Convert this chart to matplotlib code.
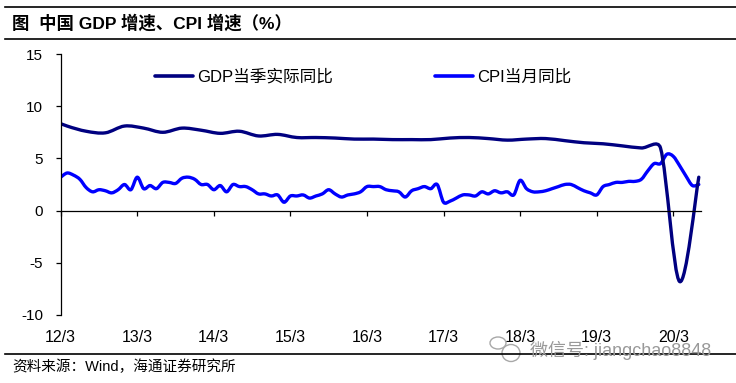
import numpy as np
import matplotlib
matplotlib.use('Agg')
import matplotlib.pyplot as plt
from matplotlib.path import Path
from matplotlib.patches import PathPatch, Ellipse
from matplotlib.lines import Line2D

plt.rcParams['font.family'] = ['Liberation Sans', 'Noto Sans CJK SC', 'DejaVu Sans']
plt.rcParams['axes.unicode_minus'] = False

# ---- data: monthly index, 0 = 2012/2 ----
CPI_YOY = [
    3.2, 3.6, 3.4, 3.0, 2.2, 1.8, 2.0, 1.9, 1.7, 2.0, 2.5,
    2.0, 3.2, 2.1, 2.4, 2.1, 2.7, 2.7, 2.6, 3.1, 3.2, 3.0, 2.5,
    2.5, 2.0, 2.4, 1.8, 2.5, 2.3, 2.3, 2.0, 1.6, 1.6, 1.4, 1.5,
    0.8, 1.4, 1.4, 1.5, 1.2, 1.4, 1.6, 2.0, 1.6, 1.3, 1.5, 1.6,
    1.8, 2.3, 2.3, 2.3, 2.0, 1.9, 1.8, 1.3, 1.9, 2.1, 2.3, 2.1,
    2.5, 0.8, 0.9, 1.2, 1.5, 1.5, 1.4, 1.8, 1.6, 1.9, 1.7, 1.8,
    1.5, 2.9, 2.1, 1.8, 1.8, 1.9, 2.1, 2.3, 2.5, 2.5, 2.2, 1.9,
    1.7, 1.5, 2.3, 2.5, 2.7, 2.7, 2.8, 2.8, 3.0, 3.8, 4.5, 4.5,
    5.4, 5.2, 4.3, 3.3, 2.4, 2.5,
]
CPI_IDX = list(range(len(CPI_YOY)))

# quarterly GDP, placed at quarter-end month (2011Q4 .. 2020Q2)
GDP_IDX = [-2, 1, 4, 7, 10, 13, 16, 19, 22, 25, 28, 31, 34, 37, 40, 43, 46,
           49, 52, 55, 58, 61, 64, 67, 70, 73, 76, 79, 82, 85, 88, 91, 94,
           97, 100]
GDP_YOY = [8.8, 8.1, 7.6, 7.45, 8.1, 7.9, 7.5, 7.9, 7.7, 7.4, 7.6, 7.15, 7.3,
           7.0, 7.0, 6.95, 6.85, 6.85, 6.8, 6.8, 6.8, 6.95, 7.0, 6.9, 6.75,
           6.85, 6.9, 6.7, 6.5, 6.4, 6.2, 6.0, 6.0, -6.8, 3.2]

TICK_POS = [0, 12, 24, 36, 48, 60, 72, 84, 96]
TICK_LABELS = ['12/3', '13/3', '14/3', '15/3', '16/3', '17/3', '18/3', '19/3', '20/3']
Y_TICKS = [-10, -5, 0, 5, 10, 15]

GDP_NAME = 'GDP当季实际同比'
CPI_NAME = 'CPI当月同比'
GDP_COLOR = '#000080'
CPI_COLOR = '#0000FF'

W, H = 736, 383
XMIN, XMAX, YMIN, YMAX = 0, 100.3, -10, 15
AX_L, AX_R, AX_T, AX_B = 60.7, 700.7, 54, 315


def smooth_path(x, y, sx, sy):
    # Excel-like smoothing: Catmull-Rom tangents (1/6), handle length
    # capped at half the segment, measured in pixels
    pts = np.column_stack([np.asarray(x, float) * sx, np.asarray(y, float) * sy])
    n = len(pts)
    verts = [pts[0]]
    codes = [Path.MOVETO]
    for i in range(n - 1):
        p0 = pts[max(i - 1, 0)]
        p1 = pts[i]
        p2 = pts[i + 1]
        p3 = pts[min(i + 2, n - 1)]
        seg = np.hypot(*(p2 - p1))
        t1 = (p2 - p0) / 6
        t2 = (p3 - p1) / 6
        for t in (t1, t2):
            L = np.hypot(*t)
            if L > seg / 2 and L > 0:
                t *= (seg / 2) / L
        verts += [p1 + t1, p2 - t2, p2]
        codes += [Path.CURVE4] * 3
    verts = np.array(verts)
    verts[:, 0] /= sx
    verts[:, 1] /= sy
    return Path(verts, codes)


fig = plt.figure(figsize=(W / 100, H / 100), dpi=100)
ax = fig.add_axes([AX_L / W, 1 - AX_B / H, (AX_R - AX_L) / W, (AX_B - AX_T) / H])
sx = (AX_R - AX_L) / (XMAX - XMIN)
sy = (AX_B - AX_T) / (YMAX - YMIN)

for xs, ys, col in [(CPI_IDX, CPI_YOY, CPI_COLOR), (GDP_IDX, GDP_YOY, GDP_COLOR)]:
    ax.add_patch(PathPatch(smooth_path(xs, ys, sx, sy), facecolor='none', edgecolor=col,
                           lw=2.4, capstyle='round', joinstyle='round'))

ax.set_xlim(XMIN, XMAX)
ax.set_ylim(YMIN, YMAX)
for s in ['top', 'right']:
    ax.spines[s].set_visible(False)
ax.spines['bottom'].set_position(('data', 0))
ax.spines['left'].set_linewidth(0.9)
ax.spines['bottom'].set_linewidth(0.9)
ax.set_yticks(Y_TICKS)
ax.tick_params(axis='y', direction='out', length=3.5, width=0.9, pad=9, labelsize=11)
ax.set_xticks(TICK_POS)
ax.tick_params(axis='x', direction='out', length=3.5, width=0.9, labelbottom=False)
for p, lab in zip(TICK_POS, TICK_LABELS):
    ax.text(p, -0.086, lab, transform=ax.get_xaxis_transform(),
            ha='center', va='center', fontsize=11.5)

handles = [Line2D([], [], color=GDP_COLOR, lw=2.6, solid_capstyle='round'),
           Line2D([], [], color=CPI_COLOR, lw=2.6, solid_capstyle='round')]
fig.legend(handles, [GDP_NAME, CPI_NAME], loc='center left',
           bbox_to_anchor=(155 / W, 1 - 76.7 / H), ncol=2, frameon=False,
           fontsize=12, handlelength=2.3, handletextpad=0.25,
           columnspacing=6.1, borderpad=0, borderaxespad=0)

# header / footer rules
for yy in [7, 39, 354]:
    fig.add_artist(Line2D([5 / W, 1], [1 - yy / H] * 2, transform=fig.transFigure,
                          color='black', lw=1.2))
fig.text(12 / W, 1 - 23 / H, '图  中国 GDP 增速、CPI 增速（%）',
         fontsize=12.5, fontweight='bold', va='center')
fig.text(12 / W, 1 - 367 / H, '资料来源：Wind，海通证券研究所',
         fontsize=10.5, va='center')

# watermark
fig.add_artist(Ellipse((498 / W, 1 - 343 / H), 16 / W, 12 / H, transform=fig.transFigure,
                       fill=False, edgecolor='#a8a8a8', lw=1))
fig.add_artist(Ellipse((511 / W, 1 - 353 / H), 18 / W, 17 / H, transform=fig.transFigure,
                       facecolor='white', edgecolor='#a8a8a8', lw=1))
fig.text(530 / W, 1 - 350.5 / H, '微信号: jiangchao8848', fontsize=13,
         color='#999999', va='center')

fig.savefig('out.png', dpi=100)
